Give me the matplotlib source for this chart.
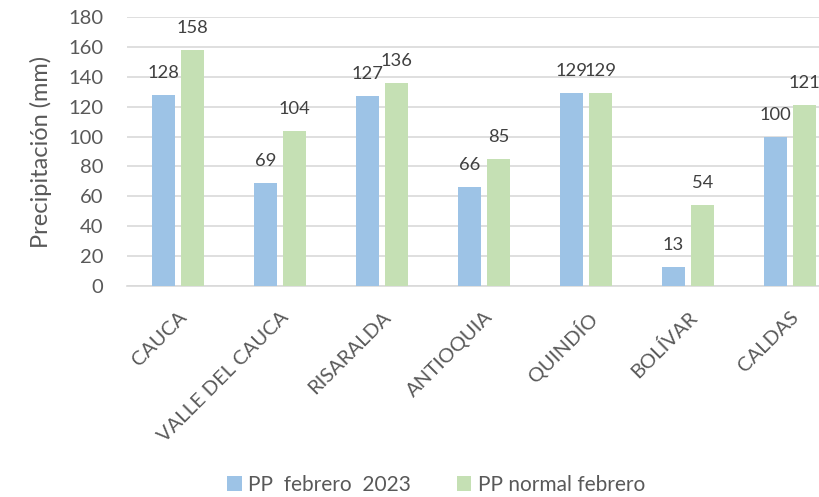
import matplotlib.pyplot as plt
import numpy as np

plt.rcParams['font.family'] = ['Lato', 'DejaVu Sans']

categories = ['CAUCA', 'VALLE DEL CAUCA', 'RISARALDA', 'ANTIOQUIA', 'QUINDÍO', 'BOLÍVAR', 'CALDAS']
pp_2023 = [128, 69, 127, 66, 129, 13, 100]
pp_normal = [158, 104, 136, 85, 129, 54, 121]
series_names = ['PP  febrero  2023', 'PP normal febrero']

BLUE = '#9DC3E6'
GREEN = '#C5E0B4'
TEXT = '#595959'
GRID = '#D9D9D9'

W, H = 820, 497
fig = plt.figure(figsize=(W / 100, H / 100), dpi=100)
ax = fig.add_axes([127 / W, (H - 286) / H, 714 / W, 269 / H])

x = np.arange(len(categories))
bw = 0.225
off = 0.142
b1 = ax.bar(x - off, pp_2023, bw, color=BLUE, label=series_names[0], zorder=3)
b2 = ax.bar(x + off, pp_normal, bw, color=GREEN, label=series_names[1], zorder=3)

for bars, vals in ((b1, pp_2023), (b2, pp_normal)):
    for r, v in zip(bars, vals):
        ax.annotate(str(v), (r.get_x() + r.get_width() / 2, v), xytext=(0, 10),
                    textcoords='offset points', ha='center', va='bottom',
                    fontsize=13.2, color='#404040')

ax.set_xlim(-0.5, 6.5)
ax.set_ylim(0, 180)
ax.set_yticks(range(0, 181, 20))
ax.yaxis.grid(True, color=GRID, linewidth=1.2, zorder=0)
ax.set_axisbelow(True)
for s in ['top', 'right', 'left']:
    ax.spines[s].set_visible(False)
ax.spines['bottom'].set_color(GRID)
ax.spines['bottom'].set_linewidth(1.2)
ax.tick_params(axis='both', length=0, labelsize=14.5, colors=TEXT)
ax.tick_params(axis='y', pad=17)
ax.set_xticks(x)
ax.set_xticklabels(categories, rotation=45, ha='right', rotation_mode='anchor')
ax.tick_params(axis='x', pad=16)
ax.set_ylabel('Precipitación (mm)', fontsize=17, color=TEXT, labelpad=12)

fig.legend(handles=[b1, b2], loc='center', bbox_to_anchor=(436 / W, 1 - 485 / H),
           ncol=2, frameon=False, fontsize=15, labelcolor=TEXT,
           handlelength=0.7, handleheight=0.7, handletextpad=0.3, columnspacing=2.2)

fig.savefig('out.png', dpi=100)
